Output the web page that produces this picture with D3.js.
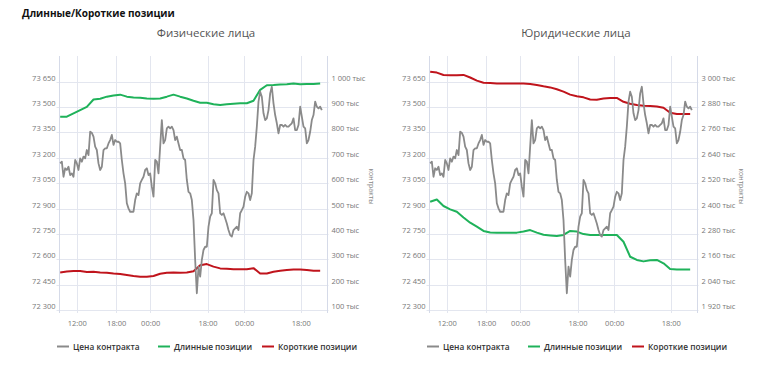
<!DOCTYPE html>
<html><head><meta charset="utf-8">
<script src="https://cdn.jsdelivr.net/npm/d3@7"></script>
<style>
html,body{margin:0;padding:0;background:#fff;}
svg{display:block;font-family:"Open Sans",sans-serif;}
</style></head>
<body>
<svg id="chart" width="758" height="369"></svg>
<script>
// ---- data ----
const mainTitle = "Длинные/Короткие позиции";
const panelTitles = ["Физические лица", "Юридические лица"];
const seriesNames = ["Цена контракта", "Длинные позиции", "Короткие позиции"];
const timeTickHours = [2.5, 8.4, 13.5, 22.1, 27.6, 36.1];
const timeTickLabels = ["12:00", "18:00", "00:00", "18:00", "00:00", "18:00"];
const priceStepHours = 0.25;
const positionStepHours = 1;
const priceTicks = [72300, 72450, 72600, 72750, 72900, 73050, 73200, 73350, 73500, 73650];
const physTicks = [100, 200, 300, 400, 500, 600, 700, 800, 900, 1000];
const jurTicks = [1920, 2040, 2160, 2280, 2400, 2520, 2640, 2760, 2880, 3000];
const priceValues = [
73167,73177,73088,73138,73128,73147,73098,73108,73088,73187,73167,73128,73197,73177,73207,73197,
73246,73216,73354,73348,73325,73266,73246,73167,73128,73147,73246,73256,73256,73285,73305,73335,
73276,73305,73295,73295,73285,73187,73108,73049,72931,72901,72881,72881,72881,72950,72990,72980,
73049,73069,73088,73128,73138,73098,73108,73029,72970,73187,73177,73108,73266,73423,73285,73305,
73374,73384,73374,73384,73364,73305,73325,73285,73246,73246,73197,73187,73069,72999,72990,72950,
72832,72596,72399,72556,72497,72596,72655,72674,72674,72793,72852,72872,73069,73049,73009,72990,
72872,72862,72872,72842,72812,72773,72743,72734,72773,72783,72793,72773,72872,72891,72911,72970,
72999,72990,72950,72990,73187,73266,73384,73532,73591,73561,73463,73423,73433,73482,73581,73620,
73522,73453,73404,73345,73394,73394,73384,73394,73384,73384,73394,73404,73433,73364,73364,73394,
73502,73443,73384,73374,73285,73305,73354,73423,73453,73532,73502,73492,73502,73482];
const physLong = [862,862,875,888,901,930,933,941,946,949,941,938,937,934,933,934,941,949,941,934,
925,917,917,911,908,911,913,915,915,925,968,986,987,989,990,993,990,991,991,993];
const physShort = [248,252,254,254,250,251,248,247,244,242,238,234,231,231,234,243,247,248,247,248,
253,276,281,271,264,263,261,261,261,265,244,244,251,255,258,260,260,258,255,255];
const jurLong = [2432,2443,2412,2396,2385,2358,2333,2314,2294,2287,2286,2286,2286,2286,2291,2298,2286,2276,2273,2270,
2275,2294,2291,2279,2275,2275,2275,2275,2275,2243,2172,2157,2150,2155,2157,2141,2114,2112,2112,2112];
const jurShort = [3047,3043,3032,3030,3030,3032,3020,3005,2995,2994,2992,2992,2992,2992,2991,2989,2984,2978,2973,2964,
2953,2939,2931,2926,2916,2915,2920,2923,2923,2905,2896,2890,2886,2885,2883,2877,2853,2847,2847,2847];
const unitLabel = "тыс";
const axisTitle = "контракты";

// ---- drawing ----
const colors = {price: "#8a8a8a", long: "#1fb25a", short: "#c0141c"};
const svg = d3.select("#chart");
const fmt = d3.formatLocale({decimal: ",", thousands: "\u00a0", grouping: [3], currency: ["", ""]}).format(",d");

svg.append("text").attr("x", 22).attr("y", 17).attr("font-size", 10).attr("font-weight", 700)
  .attr("fill", "#111").text(mainTitle);

const panels = [
  {dx: 0, title: panelTitles[0], long: physLong, short: physShort, ticks: physTicks},
  {dx: 370, title: panelTitles[1], long: jurLong, short: jurShort, ticks: jurTicks}
];

const L = 59.5, R = 327.5, T = 56, B = 310;
const tickFont = 7.5;

panels.forEach(p => {
  const g = svg.append("g").attr("transform", `translate(${p.dx},0)`);
  const x = d3.scaleLinear().domain([-0.1, 40.1]).range([L, R]);
  const tickSpan = 228.3;
  const yP = d3.scaleLinear().domain([priceTicks[0], priceTicks[priceTicks.length - 1]]).range([B, B - tickSpan]);
  const yR = d3.scaleLinear().domain([p.ticks[0], p.ticks[p.ticks.length - 1]]).range([B, B - tickSpan]);

  g.append("text").attr("x", 206).attr("y", 37).attr("text-anchor", "middle")
    .attr("font-size", 11.5).attr("fill", "#555").text(p.title);

  // grid
  const grid = g.append("g");
  grid.selectAll(".hg").data(priceTicks).join("line")
    .attr("x1", L - 3).attr("x2", R + 1).attr("y1", d => Math.round(yP(d)) + 0.5).attr("y2", d => Math.round(yP(d)) + 0.5)
    .attr("stroke", "#e3e6ef").attr("stroke-width", 1);
  grid.selectAll(".vg").data(timeTickHours).join("line")
    .attr("x1", d => Math.round(x(d)) + 0.5).attr("x2", d => Math.round(x(d)) + 0.5)
    .attr("y1", T).attr("y2", B + 3).attr("stroke", "#e3e6ef");
  grid.append("line").attr("x1", L).attr("x2", L).attr("y1", T).attr("y2", B + 3).attr("stroke", "#d5dae8");
  grid.append("line").attr("x1", R).attr("x2", R).attr("y1", T).attr("y2", B + 3).attr("stroke", "#d5dae8");

  // left axis
  const la = g.append("g").attr("transform", `translate(${L - 4},0)`)
    .call(d3.axisLeft(yP).tickValues(priceTicks).tickSize(0).tickPadding(0).tickFormat(d => fmt(d)));
  la.select(".domain").remove();
  la.selectAll("text").attr("dy", "-0.2em").attr("font-size", tickFont).attr("fill", "#777").attr("font-family", "Open Sans");

  // right axis
  const ra = g.append("g").attr("transform", `translate(${R + 4},0)`)
    .call(d3.axisRight(yR).tickValues(p.ticks).tickSize(0).tickPadding(0).tickFormat(d => fmt(d) + " " + unitLabel));
  ra.select(".domain").remove();
  ra.selectAll("text").attr("dy", "-0.2em").attr("font-size", tickFont).attr("fill", "#777").attr("font-family", "Open Sans");

  g.append("text").attr("transform", `translate(${R + 41},${(63 + B) / 2}) rotate(90)`)
    .attr("text-anchor", "middle").attr("font-size", 7).attr("fill", "#888").text(axisTitle);

  // bottom axis
  const ba = g.append("g").attr("transform", `translate(0,${B + 6})`)
    .call(d3.axisBottom(x).tickValues(timeTickHours).tickSize(0).tickPadding(5).tickFormat((d, i) => timeTickLabels[i]));
  ba.select(".domain").remove();
  ba.selectAll("text").attr("font-size", tickFont).attr("fill", "#777").attr("font-family", "Open Sans");

  // lines
  const priceLine = d3.line().x((d, i) => x(i * priceStepHours)).y(d => yP(d));
  const posLine = d3.line().x((d, i) => x(i * positionStepHours)).y(d => yR(d));
  g.append("path").datum(p.long).attr("d", posLine).attr("fill", "none").attr("stroke", colors.long).attr("stroke-width", 2).attr("stroke-linejoin", "round");
  g.append("path").datum(p.short).attr("d", posLine).attr("fill", "none").attr("stroke", colors.short).attr("stroke-width", 2).attr("stroke-linejoin", "round");
  g.append("path").datum(priceValues).attr("d", priceLine).attr("fill", "none").attr("stroke", colors.price).attr("stroke-width", 1.8).attr("stroke-linejoin", "round");

  // legend
  const legX = [57, 158, 262];
  const legC = [colors.price, colors.long, colors.short];
  seriesNames.forEach((n, i) => {
    g.append("line").attr("x1", legX[i]).attr("x2", legX[i] + 12).attr("y1", 346.5).attr("y2", 346.5)
      .attr("stroke", legC[i]).attr("stroke-width", 2);
    g.append("text").attr("x", legX[i] + 16).attr("y", 349.5).attr("font-size", 8.3).attr("font-weight", 600)
      .attr("fill", "#333").text(n);
  });
});
</script>
</body></html>
